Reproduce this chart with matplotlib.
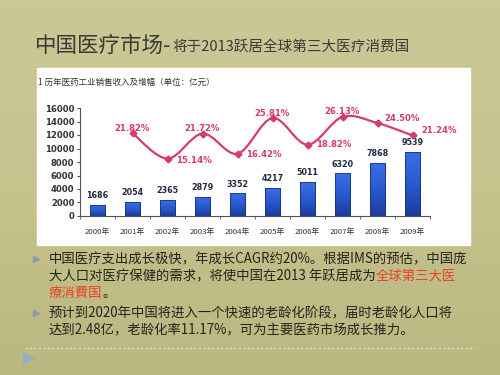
import numpy as np
import matplotlib
matplotlib.use("Agg")
import matplotlib.pyplot as plt
from matplotlib.path import Path
from matplotlib.patches import PathPatch, Rectangle
from matplotlib.colors import LinearSegmentedColormap

plt.rcParams['font.family'] = ['Noto Sans CJK SC', 'DejaVu Sans']

# data
years = ['2000年', '2001年', '2002年', '2003年', '2004年',
         '2005年', '2006年', '2007年', '2008年', '2009年']
sales = [1686, 2054, 2365, 2879, 3352, 4217, 5011, 6320, 7868, 9539]
growth = [None, 21.82, 15.14, 21.72, 16.42, 25.81, 18.82, 26.13, 24.50, 21.24]

title_main = '中国医疗市场-'
title_sub = '将于2013跃居全球第三大医疗消费国'
chart_title = '1 历年医药工业销售收入及增幅（单位：亿元）'

W, H = 500, 375
fig = plt.figure(figsize=(5, 3.75), dpi=100)

# slide background in pixel coordinates
bg = fig.add_axes([0, 0, 1, 1])
bg.set_xlim(0, W); bg.set_ylim(H, 0); bg.axis('off')
grad = np.linspace(0, 1, 100)[:, None]
bg.imshow(grad, extent=[0, W, H, 0], aspect='auto',
          cmap=LinearSegmentedColormap.from_list('bgc', ['#ccc896', '#c7c38d', '#bbb780']), zorder=0)
bg.add_patch(Rectangle((37, 68), 433, 177, color='white', zorder=1))

t1 = bg.text(35, 46, title_main, fontsize=15.5, color='#3a3a36', va='center', zorder=3)
fig.canvas.draw()
r = fig.canvas.get_renderer()
x_end = bg.transData.inverted().transform(t1.get_window_extent(r))[1][0]
bg.text(x_end + 1, 47, title_sub, fontsize=10.5, color='#3a3a36', va='center', zorder=3)

bg.text(38, 82, chart_title, fontsize=6.1, color='#333333', va='center', zorder=3)

# bullets
fs = 9.6
txt_col = '#24241e'
red = '#e8432c'
def put(x, y, s, c):
    t = bg.text(x, y, s, fontsize=fs, color=c, va='center', zorder=3)
    ext = t.get_window_extent(r)
    return bg.transData.inverted().transform(ext)[1][0]

put(49, 259, '中国医疗支出成长极快，年成长CAGR约20%。根据IMS的预估，中国庞', txt_col)
xe = put(49, 276, '大人口对医疗保健的需求，将使中国在2013 年跃居成为', txt_col)
put(xe, 276, '全球第三大医', red)
xe = put(49, 293, '療消費国', red)
put(xe, 293, '。', txt_col)
put(49, 313, '预计到2020年中国将进入一个快速的老龄化阶段，届时老龄化人口将', txt_col)
put(49, 330, '达到2.48亿，老龄化率11.17%，可为主要医药市场成长推力。', txt_col)
for yy in (259, 313):
    bg.plot(36, yy, marker='>', ms=4, color='#8f9aa8', zorder=3)
bg.plot(28, 358, marker='>', ms=7, color='#8fb0c8', zorder=3)
bg.plot([25, 475], [348, 348], ls=(0, (2, 2)), lw=0.8, color='#e4e2cc', zorder=2)

# chart
ax = fig.add_axes([80 / W, 1 - 216 / H, 350 / W, 108 / H])
ax.patch.set_alpha(0)
x = np.arange(len(years))
bars = ax.bar(x, sales, width=0.43, color='none', edgecolor='#16338a', lw=0.6, zorder=3)
bar_cmap = LinearSegmentedColormap.from_list('barc', ['#1c3c9c', '#2a5ad0', '#3a6ee6'])
for b in bars:
    im = ax.imshow(np.linspace(0, 1, 50)[:, None], cmap=bar_cmap, origin='lower', aspect='auto',
                   extent=[b.get_x(), b.get_x() + b.get_width(), 0, b.get_height()], zorder=2)
    im.set_clip_path(b)
for xi, v in zip(x, sales):
    ax.text(xi, v + 700, str(v), ha='center', va='bottom', fontsize=5.8,
            fontweight='bold', color='#222a40', family='Liberation Sans Narrow')
ax.set_xlim(-0.5, 9.5)
ax.set_ylim(0, 16000)
ax.set_aspect('auto')
ax.set_yticks(range(0, 16001, 2000))
ax.set_xticks(x)
ax.set_xticklabels(years, fontsize=5.6, color='#333333')
ax.set_xticks(np.arange(-0.5, 10, 1), minor=True)
ax.tick_params(axis='x', which='major', length=0, pad=9)
ax.tick_params(axis='x', which='minor', length=2, direction='out', color='#555555')
ax.tick_params(axis='y', labelsize=6.1, length=2, color='#555555', pad=2)
for lab in ax.get_yticklabels():
    lab.set_family('Liberation Sans Narrow'); lab.set_fontweight('bold'); lab.set_color('#333333')
for s in ('top', 'right'):
    ax.spines[s].set_visible(False)
ax.spines['left'].set_color('#555555'); ax.spines['bottom'].set_color('#555555')

# growth line on hidden secondary axis
ax2 = ax.twinx()
ax2.set_ylim(0, 16000 / 562)
ax2.axis('off')
gx = np.array([xi for xi, g in zip(x, growth) if g is not None], dtype=float)
gy = np.array([g for g in growth if g is not None], dtype=float)
line_col = '#d43c6a'
# smooth curve through points (Catmull-Rom as cubic Bezier)
verts = [(gx[0], gy[0])]
codes = [Path.MOVETO]
n = len(gx)
for i in range(n - 1):
    p0 = np.array([gx[max(i - 1, 0)], gy[max(i - 1, 0)]])
    p1 = np.array([gx[i], gy[i]])
    p2 = np.array([gx[i + 1], gy[i + 1]])
    p3 = np.array([gx[min(i + 2, n - 1)], gy[min(i + 2, n - 1)]])
    c1 = p1 + (p2 - p0) / 6
    c2 = p2 - (p3 - p1) / 6
    verts += [tuple(c1), tuple(c2), tuple(p2)]
    codes += [Path.CURVE4] * 3
ax2.add_patch(PathPatch(Path(verts, codes), fill=False, ec=line_col, lw=1.6, zorder=3))
ax2.plot(gx, gy, ls='none', marker='D', ms=3.5, color=line_col, zorder=4)

offsets = {1: (0, 1.3, 'center'), 2: (0.25, -0.5, 'left'), 3: (0, 1.3, 'center'),
           4: (0.25, -0.3, 'left'), 5: (0, 1.3, 'center'), 6: (0.25, 0, 'left'),
           7: (0, 1.3, 'center'), 8: (0.2, 1.2, 'left'), 9: (0.25, 1.2, 'left')}
for xi, g in zip(gx, gy):
    dx, dy, ha = offsets[int(xi)]
    ax2.text(xi + dx, g + dy, f'{g:.2f}%', ha=ha, va='center', fontsize=6.1,
             fontweight='bold', color=line_col, family='Liberation Sans Narrow')

fig.savefig('out.png', dpi=100)
